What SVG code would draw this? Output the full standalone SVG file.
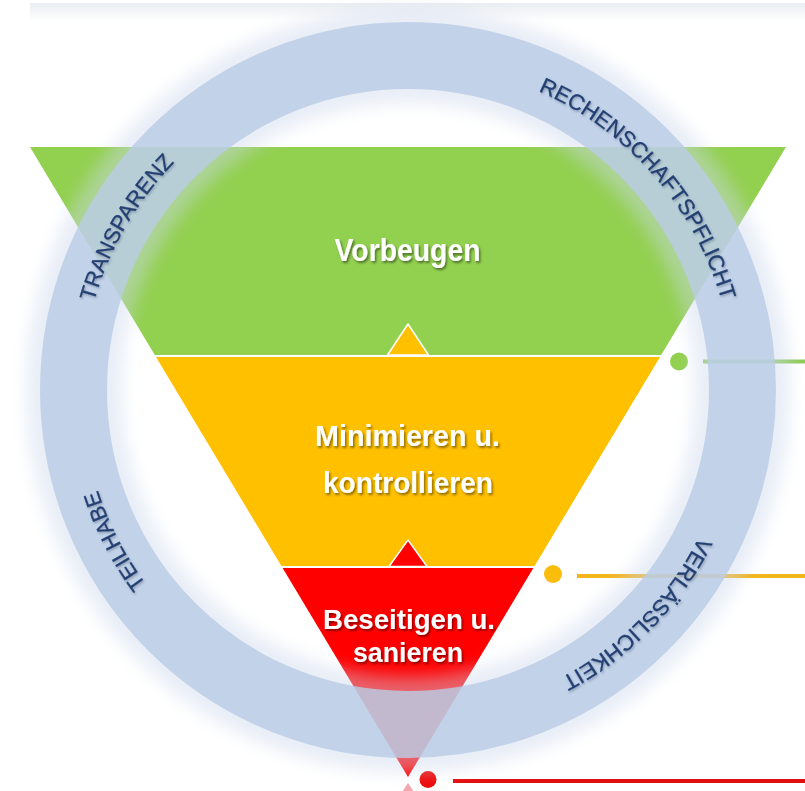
<svg xmlns="http://www.w3.org/2000/svg" width="805" height="791" viewBox="0 0 805 791">
  <defs>
    <linearGradient id="topShade" x1="0" y1="0" x2="0" y2="1">
      <stop offset="0" stop-color="#eaedf2"/>
      <stop offset="1" stop-color="#ffffff"/>
    </linearGradient>
    <filter id="labelShadow" x="-10%" y="-30%" width="130%" height="170%">
      <feDropShadow dx="1.5" dy="2" stdDeviation="1.2" flood-color="#000000" flood-opacity="0.45"/>
    </filter>
    <filter id="ringGlow" x="-20%" y="-20%" width="140%" height="140%">
      <feGaussianBlur stdDeviation="8"/>
    </filter>
    <filter id="ringTextShadow" x="-10%" y="-10%" width="120%" height="120%">
      <feDropShadow dx="1" dy="1.5" stdDeviation="1" flood-color="#33415c" flood-opacity="0.4"/>
    </filter>
    <!-- clockwise circle for the ring captions, starting at the right-hand point -->
    <path id="ringPath" d="M734,390 A326,326 0 1 1 82,390 A326,326 0 1 1 734,390"/>
  </defs>
  <style>
    .band-label{font-family:"Liberation Sans",Arial,sans-serif;font-weight:bold;fill:#ffffff;text-anchor:middle;filter:url(#labelShadow)}
    .ring-label{font-family:"Liberation Sans",Arial,sans-serif;font-size:22px;fill:#233f72;stroke:#233f72;stroke-width:0.3;text-anchor:middle}
    .lead{stroke-width:4;fill:none}
    .step{stroke:#ffffff;stroke-width:1.5;stroke-linejoin:round}
  </style>

  <rect x="0" y="0" width="805" height="791" fill="#ffffff"/>
  <rect x="30" y="3" width="775" height="18" fill="url(#topShade)"/>

  <!-- pyramid levels -->
  <g id="vorbeugen">
    <polygon points="30,147 786,147 661.2,355 154.8,355" fill="#92d050"/>
    <text class="band-label" x="407.5" y="261" font-size="31" textLength="146" lengthAdjust="spacingAndGlyphs">Vorbeugen</text>
  </g>
  <g id="minimieren">
    <polygon points="156,357 660,357 534.6,566 281.4,566" fill="#ffc000"/>
    <text class="band-label" x="407.5" y="445.5" font-size="29" textLength="185" lengthAdjust="spacingAndGlyphs">Minimieren u.</text>
    <text class="band-label" x="408" y="492.5" font-size="29" textLength="170" lengthAdjust="spacingAndGlyphs">kontrollieren</text>
  </g>
  <g id="beseitigen">
    <polygon points="282.6,568 533.4,568 408,777" fill="#ff0000"/>
    <text class="band-label" x="409" y="628.5" font-size="28" textLength="172" lengthAdjust="spacingAndGlyphs">Beseitigen u.</text>
    <text class="band-label" x="408" y="661.5" font-size="28" textLength="110" lengthAdjust="spacingAndGlyphs">sanieren</text>
  </g>

  <!-- step markers and leader lines -->
  <g id="connectors">
    <polygon class="step" points="408,324 428.5,355 387.5,355" fill="#ffc000"/>
    <polygon class="step" points="408,540 427,566.5 389,566.5" fill="#ff0000"/>
    <polygon points="408,783 402,792 414,792" fill="#f4a6ac"/>

    <circle cx="679" cy="361.5" r="9" fill="#92d050"/>
    <line class="lead" x1="703" y1="361.5" x2="805" y2="361.5" stroke="#8fcb5a"/>

    <circle cx="553" cy="574" r="9" fill="#fbbd0c"/>
    <line class="lead" x1="577" y1="576" x2="805" y2="576" stroke="#f2b51c"/>

    <circle cx="428" cy="779.5" r="8.5" fill="#ee0a0a"/>
    <line class="lead" x1="453" y1="781" x2="805" y2="781" stroke="#e40d0d"/>
  </g>

  <!-- surrounding ring of principles -->
  <g id="ring">
    <circle cx="408" cy="390" r="334.5" fill="none" stroke="#cdd8ec" stroke-width="96" opacity="0.45" filter="url(#ringGlow)"/>
    <circle cx="408" cy="390" r="334.5" fill="none" stroke="#b9cde5" stroke-width="67" opacity="0.82"/>
    <g filter="url(#ringTextShadow)">
      <text class="ring-label"><textPath href="#ringPath" startOffset="58.33%">TRANSPARENZ</textPath></text>
      <text class="ring-label"><textPath href="#ringPath" startOffset="88.56%">RECHENSCHAFTSPFLICHT</textPath></text>
      <text class="ring-label"><textPath href="#ringPath" startOffset="42.43%">TEILHABE</textPath></text>
      <text class="ring-label"><textPath href="#ringPath" startOffset="12.32%">VERLÄSSLICHKEIT</textPath></text>
    </g>
  </g>
</svg>
